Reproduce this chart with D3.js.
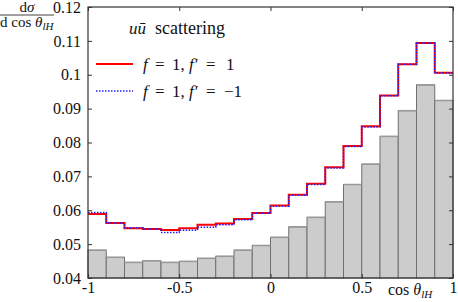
<!DOCTYPE html>
<html>
<head>
<meta charset="utf-8">
<script src="https://cdn.jsdelivr.net/npm/d3@7"></script>
<style>
  body { margin: 0; background: #fff; }
</style>
</head>
<body>
<svg id="chart" width="458" height="302"></svg>
<script>
// bin edges of cos theta_lH, 20 bins from -1 to 1
const binLow = [-1, -0.9, -0.8, -0.7, -0.6, -0.5, -0.4, -0.3, -0.2, -0.1,
  0, 0.1, 0.2, 0.3, 0.4, 0.5, 0.6, 0.7, 0.8, 0.9];
const binWidth = 0.1;

// gray histogram
const histValues = [0.0482, 0.0461, 0.0446, 0.0451, 0.0446, 0.0449, 0.0458, 0.0464, 0.0482, 0.0496,
  0.0520, 0.0551, 0.0579, 0.0625, 0.0676, 0.0736, 0.0818, 0.0894, 0.0970, 0.0924];

// f = 1, f' = 1 (red)
const redValues = [0.0589, 0.0562, 0.0547, 0.0545, 0.0542, 0.0547, 0.0557, 0.0561, 0.0574, 0.0592,
  0.0614, 0.0646, 0.0678, 0.0727, 0.0790, 0.0848, 0.0939, 0.1031, 0.1094, 0.1006];

// f = 1, f' = -1 (blue dotted)
const blueValues = [0.0593, 0.0562, 0.0548, 0.0545, 0.0534, 0.0541, 0.0550, 0.0557, 0.0572, 0.0591,
  0.0612, 0.0644, 0.0676, 0.0725, 0.0788, 0.0846, 0.0938, 0.1031, 0.1094, 0.1005];

const xTicks = [-1, -0.5, 0, 0.5, 1];
const xTickLabels = ["-1", "-0.5", "0", "0.5", "1"];
const yTicks = [0.04, 0.05, 0.06, 0.07, 0.08, 0.09, 0.1, 0.11, 0.12];
const yTickLabels = ["0.04", "0.05", "0.06", "0.07", "0.08", "0.09", "0.1", "0.11", "0.12"];

const fontName = "'Liberation Serif'";
const svg = d3.select("#chart");
const plot = { left: 88, right: 453, top: 7, bottom: 278 };

const x = d3.scaleLinear().domain([-1, 1]).range([plot.left, plot.right]);
const y = d3.scaleLinear().domain([0.04, 0.12]).range([plot.bottom, plot.top]);

// histogram bars
svg.append("g")
  .selectAll("rect")
  .data(histValues)
  .join("rect")
  .attr("x", (d, i) => x(binLow[i]))
  .attr("y", d => y(d))
  .attr("width", x(binWidth) - x(0))
  .attr("height", d => plot.bottom - y(d))
  .attr("fill", "#cccccc")
  .attr("stroke", "#6f6f6f")
  .attr("stroke-width", 1);

// top edges of bars a bit thicker
svg.append("g")
  .selectAll("line")
  .data(histValues)
  .join("line")
  .attr("x1", (d, i) => x(binLow[i]))
  .attr("x2", (d, i) => x(binLow[i] + binWidth))
  .attr("y1", d => y(d))
  .attr("y2", d => y(d))
  .attr("stroke", "#999")
  .attr("stroke-width", 1.5);

function stepPoints(vals) {
  const pts = vals.map((v, i) => [binLow[i], v]);
  pts.push([1, vals[vals.length - 1]]);
  return pts;
}

const step = d3.line()
  .x(d => x(d[0]))
  .y(d => y(d[1]))
  .curve(d3.curveStepAfter);

svg.append("path")
  .attr("d", step(stepPoints(redValues)))
  .attr("fill", "none")
  .attr("stroke", "#ff0000")
  .attr("stroke-width", 2);

svg.append("path")
  .attr("d", step(stepPoints(blueValues)))
  .attr("fill", "none")
  .attr("stroke", "#2020ff")
  .attr("stroke-width", 1.5)
  .attr("stroke-dasharray", "1.5,1.5");

// frame
svg.append("rect")
  .attr("x", plot.left)
  .attr("y", plot.top)
  .attr("width", plot.right - plot.left)
  .attr("height", plot.bottom - plot.top)
  .attr("fill", "none")
  .attr("stroke", "#333")
  .attr("stroke-width", 1.2);

// axes with inward ticks, mirrored
const axLeft = d3.axisLeft(y).tickValues(yTicks).tickSize(-4)
  .tickFormat((d, i) => yTickLabels[i]).tickPadding(7);
const gl = svg.append("g").attr("transform", `translate(${plot.left},0)`).call(axLeft);
const axRight = d3.axisRight(y).tickValues(yTicks).tickSize(-4).tickFormat("");
const gr = svg.append("g").attr("transform", `translate(${plot.right},0)`).call(axRight);
const axBottom = d3.axisBottom(x).tickValues(xTicks).tickSize(-4)
  .tickFormat((d, i) => xTickLabels[i]).tickPadding(4);
const gb = svg.append("g").attr("transform", `translate(0,${plot.bottom})`).call(axBottom);
const axTop = d3.axisTop(x).tickValues(xTicks).tickSize(-4).tickFormat("");
const gt = svg.append("g").attr("transform", `translate(0,${plot.top})`).call(axTop);

[gl, gr, gb, gt].forEach(g => {
  g.attr("font-family", fontName).attr("font-size", 16);
  g.select(".domain").remove();
  g.selectAll(".tick line").attr("stroke", "#333");
  g.selectAll(".tick text")
    .style("font-family", fontName)
    .style("font-size", "16px")
    .attr("fill", "#111");
});

function addText(px, py, size, html) {
  return svg.append("text")
    .attr("x", px).attr("y", py)
    .style("font-family", fontName)
    .style("font-size", size + "px")
    .attr("fill", "#111")
    .html(html);
}

// y label as fraction
addText(27, 12, 15, 'd<tspan font-style="italic">σ</tspan>').attr("text-anchor", "middle");
svg.append("line").attr("x1", 0).attr("x2", 54).attr("y1", 15).attr("y2", 15)
  .attr("stroke", "#111").attr("stroke-width", 0.8);
addText(0, 27, 15, 'd cos <tspan font-style="italic">θ</tspan><tspan font-style="italic" font-size="11" dy="3">lH</tspan>');

// x label
addText(388, 295, 16, 'cos <tspan font-style="italic">θ</tspan><tspan font-style="italic" font-size="11" dy="3">lH</tspan>');

// legend
addText(129, 34, 17, '<tspan font-style="italic">u</tspan><tspan font-style="italic">ū</tspan><tspan x="155" font-size="18">scattering</tspan>');

const legendItems = [
  { color: "#ff0000", width: 2, dash: null, yy: 64, last: "1" },
  { color: "#2020ff", width: 1.5, dash: "1.5,1.5", yy: 91, last: "−1" }
];
legendItems.forEach(it => {
  svg.append("line").attr("x1", 96).attr("x2", 133).attr("y1", it.yy).attr("y2", it.yy)
    .attr("stroke", it.color).attr("stroke-width", it.width)
    .attr("stroke-dasharray", it.dash);
  addText(143, it.yy + 6, 17,
    '<tspan font-style="italic">f</tspan>' +
    '<tspan x="155">=</tspan>' +
    '<tspan x="172">1,</tspan>' +
    '<tspan x="189" font-style="italic">f′</tspan>' +
    '<tspan x="206">=</tspan>' +
    `<tspan x="${it.last === "1" ? 226 : 224}">${it.last}</tspan>`);
});
</script>
</body>
</html>
